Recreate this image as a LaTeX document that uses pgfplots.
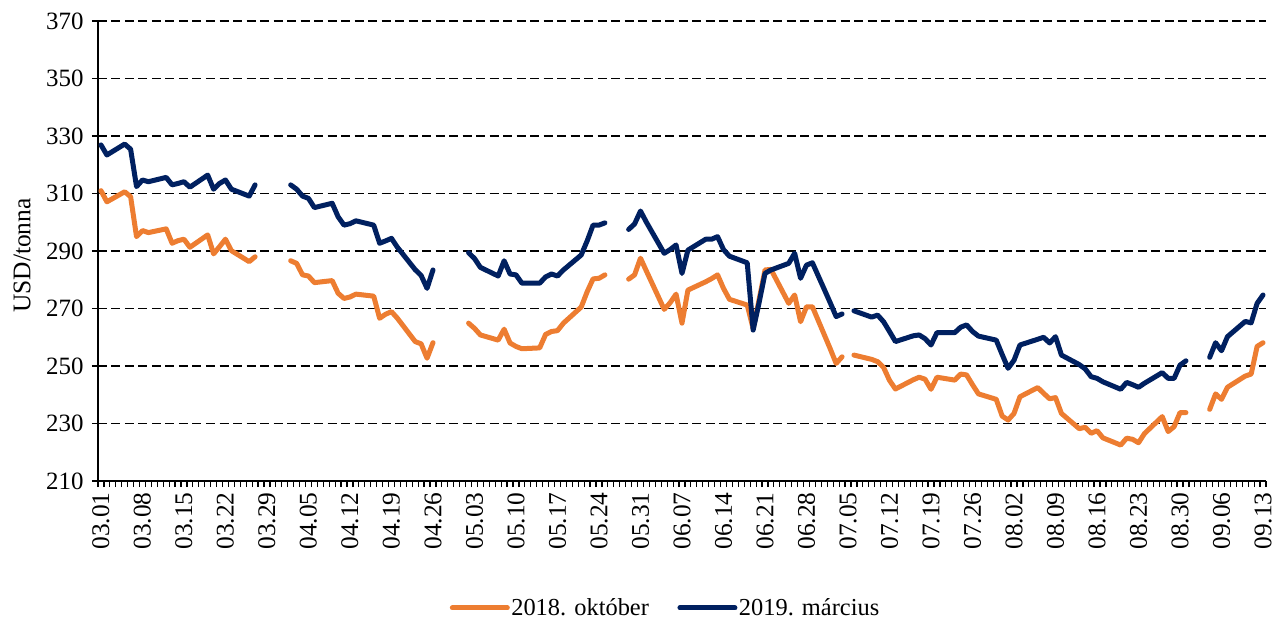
\documentclass[border=0pt]{standalone}
\usepackage{fontspec}
\setmainfont{Liberation Serif}
\usepackage{pgfplots}
\pgfplotsset{compat=1.18}
\definecolor{corange}{HTML}{ED7D31}
\definecolor{cblue}{HTML}{002060}
\begin{document}
\begin{tikzpicture}
\path (-98bp,-141bp) rectangle (1177bp,481bp);
\begin{axis}[
 scale only axis, width=1168bp, height=460bp,
 xmin=-0.5, xmax=196.5, ymin=210, ymax=370,
 axis x line*=bottom, axis y line*=left,
 axis line style={line width=1.3bp, black},
 xtick={0,7,...,196},
 xticklabels={03.01,03.08,03.15,03.22,03.29,04.05,04.12,04.19,04.26,05.03,05.10,05.17,05.24,05.31,06.07,06.14,06.21,06.28,07.05,07.12,07.19,07.26,08.02,08.09,08.16,08.23,08.30,09.06,09.13},
 every major x tick/.style={draw=none},
 minor xtick={-0.5,0.5,...,196.5},
 ytick={210,230,...,370},
 tick align=outside,
 major tick length=6bp, minor tick length=6bp,
 tick style={line width=1.2bp, black},
 ymajorgrids,
 grid style={black, line width=1.6bp, dash pattern=on 9bp off 4.5bp},
 /pgf/number format/assume math mode=true,
 yticklabel style={font=\fontsize{25}{25}\selectfont, xshift=-5bp},
 xticklabel style={font=\fontsize{25.5}{25.5}\selectfont, rotate=90, anchor=east, xshift=-2bp},
 ylabel={USD/tonna},
 ylabel style={font=\fontsize{25.5}{25.5}\selectfont, at={(axis description cs:-0.0651,0.49)}, anchor=center},
 unbounded coords=jump,
 legend columns=2,
 legend style={draw=none, fill=none, at={(0.4857,-0.276)}, anchor=center,
   font=\fontsize{24.5}{24.5}\selectfont, inner sep=0pt,
   nodes={inner sep=1.5bp},
   /tikz/every even column/.append style={column sep=27bp}},
 legend image code/.code={\draw[#1] (0bp,0bp) -- (55bp,0bp);},
 every axis plot/.append style={line width=5bp, line join=round, line cap=round, mark=none},
]
\addplot[corange] coordinates {
(0,311) (1,307.1) (4,310.6) (5,308.9) (6,295) (7,297.1) (8,296.4) (11,297.7) (12,292.7) (13,293.6) (14,294.1) (15,291.3) (18,295.6) (19,289) (20,291.5) (21,294.1) (22,290.1) (25,286.3) (26,288)
(27,nan)
(32,286.6) (33,285.7) (34,281.7) (35,281.3) (36,279) (39,279.7) (40,275.3) (41,273.5) (42,274) (43,275) (46,274.3) (47,266.6) (48,268) (49,268.9) (50,266.6) (53,258.5) (54,257.7) (55,252.7) (56,258.1)
(57,nan)
(62,264.9) (63,263.1) (64,260.8) (67,259) (68,262.8) (69,258) (70,256.8) (71,256) (74,256.3) (75,261) (76,262) (77,262.3) (78,264.9) (81,270.5) (82,275.8) (83,280.3) (84,280.5) (85,281.7)
(86,nan)
(89,280.2) (90,281.7) (91,287.5) (92,283) (95,269.7) (96,272) (97,275) (98,264.9) (99,276.4) (102,279.3) (103,280.4) (104,281.7) (105,277) (106,273.2) (109,271.2) (110,263) (111,273) (112,283.4) (113,283.6) (116,271.8) (117,274.7) (118,265.4) (119,270.6) (120,270.6) (123,256) (124,250.9) (125,253.2)
(126,nan)
(127,253.8) (130,252.3) (131,251.5) (132,249.5) (133,245) (134,242) (137,245.2) (138,246.1) (139,245.4) (140,241.9) (141,246.1) (144,245.1) (145,247.2) (146,246.9) (147,243.5) (148,240.3) (151,238.4) (152,232.6) (153,231.2) (154,233.5) (155,239.3) (158,242.5) (159,240.5) (160,238.6) (161,239) (162,233.5) (165,228.2) (166,228.7) (167,226.6) (168,227.5) (169,225) (172,222.5) (173,224.9) (174,224.5) (175,223.3) (176,226.5) (179,232.4) (180,227.2) (181,228.9) (182,233.8) (183,233.8)
(184,nan)
(187,234.9) (188,240.3) (189,238.4) (190,242.6) (193,246.5) (194,247.2) (195,256.8) (196,258.1)
};
\addlegendentry{2018. október}
\addplot[cblue] coordinates {
(0,326.9) (1,323.4) (4,327.2) (5,325.4) (6,312.4) (7,314.7) (8,314.1) (11,315.6) (12,313) (13,313.5) (14,314.1) (15,312.2) (18,316.4) (19,311.5) (20,313.5) (21,314.7) (22,311.5) (25,309.1) (26,313)
(27,nan)
(32,313) (33,311.5) (34,309.1) (35,308.3) (36,305.1) (39,306.6) (40,301.9) (41,299) (42,299.5) (43,300.5) (46,299) (47,292.7) (48,293.5) (49,294.4) (50,291.3) (53,283.5) (54,281.5) (55,277) (56,283.4)
(57,nan)
(62,289.4) (63,287.4) (64,284.3) (67,281.3) (68,286.6) (69,282) (70,281.7) (71,278.8) (74,278.8) (75,281) (76,282) (77,281.3) (78,283.4) (81,288.6) (82,293.5) (83,299) (84,299) (85,299.8)
(86,nan)
(89,297.5) (90,299.4) (91,303.9) (92,300) (95,289.2) (96,290.5) (97,292.1) (98,282.2) (99,290.3) (102,294.1) (103,294.1) (104,295) (105,290.5) (106,288.2) (109,285.9) (110,262.5) (111,272) (112,282.2) (113,283.4) (116,285.7) (117,289.2) (118,280.5) (119,285.1) (120,285.9) (123,272) (124,267.2) (125,268.1)
(126,nan)
(127,269.2) (130,267) (131,267.7) (132,265.4) (133,262) (134,258.5) (137,260.5) (138,260.8) (139,259.5) (140,257.3) (141,261.6) (144,261.6) (145,263.5) (146,264.3) (147,262) (148,260.4) (151,259) (152,254) (153,249.2) (154,252) (155,257.3) (158,259.3) (159,260) (160,258) (161,260.2) (162,253.8) (165,250.5) (166,249) (167,246.3) (168,245.7) (169,244.5) (172,241.9) (173,244.3) (174,243.5) (175,242.6) (176,244) (179,247.7) (180,245.7) (181,245.7) (182,250.3) (183,251.8)
(184,nan)
(187,253) (188,258.1) (189,255.3) (190,260.2) (193,265.5) (194,265) (195,271.8) (196,274.7)
};
\addlegendentry{2019. március}
\end{axis}
\end{tikzpicture}
\end{document}
